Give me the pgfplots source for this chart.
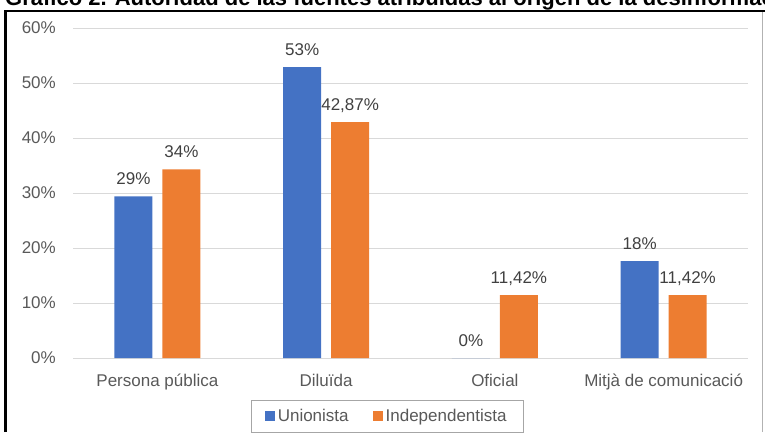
\documentclass[border=0pt]{standalone}
\usepackage{pgfplots}
\usepackage{pgfplotstable}
\pgfplotsset{compat=1.18}
\usepackage{fontspec}
\setmainfont{Liberation Sans}
\definecolor{cblue}{HTML}{4472C4}
\definecolor{corange}{HTML}{ED7D31}
\definecolor{tickgray}{HTML}{595959}
\definecolor{labgray}{HTML}{404040}
\definecolor{gridgray}{HTML}{D9D9D9}

\pgfplotstableread{
x y lab
0 29.4 29
1 52.9 53
2 0 0
3 17.6 18
}\unionista
\pgfplotstableread{
x y lab
0 34.3 34
1 42.87 42,87
2 11.42 11,42
3 11.42 11,42
}\indep

\newcommand{\chartfont}{\fontsize{17}{20}\selectfont}

\begin{document}
\begin{tikzpicture}[x=1pt,y=1pt]
\path[use as bounding box, clip] (0,0) rectangle (765,432);
\node[anchor=base west, inner sep=0pt, font=\bfseries\fontsize{22}{25}\selectfont] at (5,426.5) {Gráfico 2. Autoridad de las fuentes atribuidas al origen de la desinformación};
\begin{axis}[
  at={(73pt,74pt)}, anchor=south west,
  scale only axis, width=675pt, height=330pt,
  xmin=-0.5, xmax=3.5, ymin=0, ymax=60,
  ybar=10pt, bar width=38pt,
  axis line style={draw=none},
  major tick length=0pt,
  ytick={0,10,...,60},
  /pgf/number format/assume math mode=true,
  yticklabel={\pgfmathprintnumber{\tick}\%},
  ymajorgrids, grid style={gridgray, line width=1pt},
  xtick={0,1,2,3},
  xticklabels={Persona pública, Diluïda, Oficial, Mitjà de comunicació},
  tick label style={font=\chartfont, text=tickgray},
  yticklabel style={inner sep=0pt, xshift=-17pt},
  xticklabel style={anchor=base, inner sep=0pt, yshift=-28pt},
  point meta=explicit symbolic,
  nodes near coords={\pgfplotspointmeta\%},
  every node near coord/.append style={font=\chartfont, text=labgray, anchor=base, inner sep=0pt, yshift=11.5pt},
  legend columns=2,
  legend image code/.code={\fill[#1,draw=none] (0pt,-5pt) rectangle (10pt,5pt);},
  legend style={at={(axis description cs:0.4655,-0.127)}, anchor=north,
    draw=gray!70, line width=1pt, font=\chartfont, text=tickgray,
    inner xsep=14pt, inner ysep=6pt,
    nodes={inner xsep=2.5pt, inner ysep=3pt},
    /tikz/every even column/.append style={column sep=22pt}},
]
\addplot[fill=cblue, draw=none] table[x=x, y=y, meta=lab] {\unionista};
\addplot[fill=corange, draw=none] table[x=x, y=y, meta=lab] {\indep};
\legend{Unionista, Independentista}
\end{axis}
\draw[gray!60, line width=1pt] (762.5,0) -- (762.5,421);
\draw[black, line width=2.5pt] (4,421) -- (765,421);
\draw[black, line width=3pt] (5.5,0) -- (5.5,422.25);
\end{tikzpicture}
\end{document}
